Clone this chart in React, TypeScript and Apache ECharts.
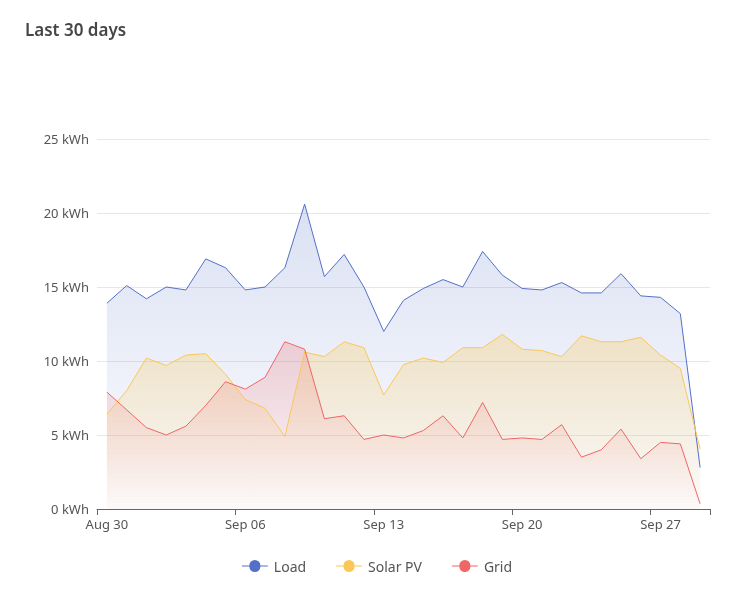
import * as echarts from "echarts";
import { useEffect, useRef } from "react";

const days = [
    "Aug 30", "Aug 31", "Sep 01", "Sep 02", "Sep 03", "Sep 04", "Sep 05",
    "Sep 06", "Sep 07", "Sep 08", "Sep 09", "Sep 10", "Sep 11", "Sep 12",
    "Sep 13", "Sep 14", "Sep 15", "Sep 16", "Sep 17", "Sep 18", "Sep 19",
    "Sep 20", "Sep 21", "Sep 22", "Sep 23", "Sep 24", "Sep 25", "Sep 26",
    "Sep 27", "Sep 28", "Sep 29",
];

const load = [
    13.9, 15.1, 14.2, 15.0, 14.8, 16.9, 16.3, 14.8, 15.0, 16.3, 20.6, 15.7, 17.2, 15.0, 12.0, 14.1,
    14.9, 15.5, 15.0, 17.4, 15.8, 14.9, 14.8, 15.3, 14.6, 14.6, 15.9, 14.4, 14.3, 13.2, 2.8,
];
const solar = [
    6.4, 8.0, 10.2, 9.7, 10.4, 10.5, 9.1, 7.4, 6.8, 4.9, 10.6, 10.3, 11.3, 10.9, 7.7, 9.75,
    10.2, 9.9, 10.9, 10.9, 11.8, 10.8, 10.7, 10.3, 11.7, 11.3, 11.3, 11.6, 10.4, 9.5, 4.05,
];
const grid = [
    7.9, 6.7, 5.5, 5.0, 5.6, 7.0, 8.6, 8.1, 8.9, 11.3, 10.8, 6.1, 6.3, 4.7, 5.0, 4.8,
    5.3, 6.3, 4.8, 7.2, 4.7, 4.8, 4.7, 5.7, 3.5, 4.0, 5.4, 3.4, 4.5, 4.4, 0.35,
];

const font = "Noto Sans";

function areaFill(r: number, g: number, b: number, top: number) {
    return new echarts.graphic.LinearGradient(0, 0, 0, 1, [
        { offset: 0, color: `rgba(${r},${g},${b},${top})` },
        { offset: 1, color: `rgba(${r},${g},${b},0.02)` },
    ]);
}

function line(name: string, data: number[], color: string, fill: any) {
    return {
        name,
        type: "line",
        data,
        symbol: "none",
        color,
        lineStyle: { width: 1, color },
        areaStyle: { color: fill },
    };
}

export default function App() {
    const node = useRef<HTMLDivElement>(null);

    useEffect(() => {
        const chart = echarts.init(node.current, null, { renderer: "svg" });
        chart.setOption({
            animation: false,
            textStyle: { fontFamily: font },
            title: {
                text: "Last 30 days",
                left: 20,
                top: 16,
                textStyle: { fontSize: 17, fontWeight: 600, color: "#464646", fontFamily: font },
            },
            legend: {
                bottom: 18,
                left: "center",
                itemGap: 30,
                icon: "path://M0,5 L8,5 A6,6 0 1,1 20,5 L28,5 L28,6 L20,6 A6,6 0 1,1 8,6 L0,6 Z",
                itemWidth: 28,
                itemHeight: 12,
                textStyle: { fontSize: 14, color: "#555" },
            },
            grid: { left: 97, right: 44, top: 139, bottom: 87 },
            xAxis: {
                type: "category",
                data: days,
                boundaryGap: true,
                axisLine: { lineStyle: { color: "#666" } },
                axisTick: { show: true, interval: 6, length: 6, lineStyle: { color: "#666" } },
                axisLabel: { interval: 6, color: "#555", fontSize: 13 },
            },
            yAxis: {
                type: "value",
                min: 0,
                max: 25,
                interval: 5,
                axisLabel: { formatter: "{value} kWh", color: "#555", fontSize: 13 },
                splitLine: { lineStyle: { color: "#e3e7f2" } },
            },
            series: [
                line("Load", load, "#5470c6", areaFill(84, 112, 198, 0.3)),
                line("Solar PV", solar, "#fac858", areaFill(250, 200, 88, 0.45)),
                line("Grid", grid, "#ee6666", areaFill(238, 102, 102, 0.35)),
            ],
        });
        return () => chart.dispose();
    }, []);

    return <div ref={node} style={{ position: "fixed", left: 0, top: 0, width: 754, height: 596 }} />;
}
